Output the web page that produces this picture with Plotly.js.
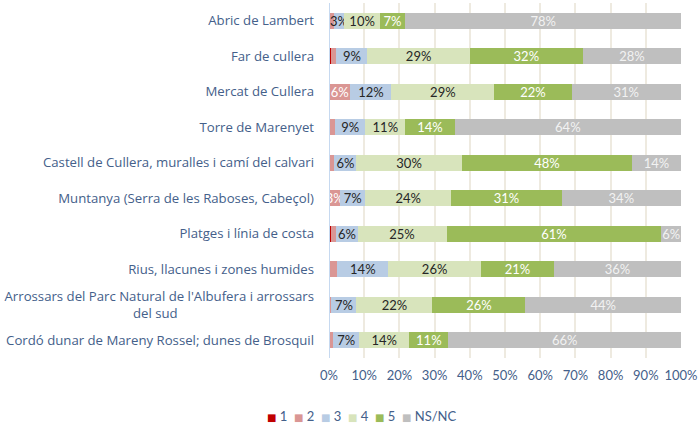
<!DOCTYPE html>
<html>
<head>
<meta charset="utf-8">
<script src="https://cdn.plot.ly/plotly-3.0.1.min.js"></script>
<style>html,body{margin:0;padding:0;background:#fff;}#chart{width:699px;height:426px;}</style>
</head>
<body>
<div id="chart"></div>
<script>
const categories = [
  "Abric de Lambert",
  "Far de cullera",
  "Mercat de Cullera",
  "Torre de Marenyet",
  "Castell de Cullera, muralles i camí del calvari",
  "Muntanya (Serra de les Raboses, Cabeçol)",
  "Platges i línia de costa",
  "Rius, llacunes i zones humides",
  "Arrossars del Parc Natural de l'Albufera i arrossars<br>del sud",
  "Cordó dunar de Mareny Rossel; dunes de Brosquil"
];
const seriesNames = ["1", "2", "3", "4", "5", "NS/NC"];
const s1   = [0,   0.7, 0,    0,    0,    0,    0.7,  0,    0,    0];
const s2   = [1.3, 1.4, 6.1,  1.8,  1.5,  3.2,  1.4,  2.4,  0.7,  1.2];
const s3   = [3.1, 8.8, 11.6, 8.5,  6.3,  7.1,  6.0,  14.4, 7.1,  7.4];
const s4   = [10.0,29.1,29.3, 11.4, 29.9, 24.4, 25.3, 26.4, 21.6, 14.2];
const s5   = [7.3, 32.1,21.9, 14.0, 48.4, 31.4, 61.0, 20.7, 26.4, 11.1];
const sNS  = [78.3,27.9,31.1, 64.3, 13.9, 33.9, 5.6,  36.1, 44.2, 66.1];
const tickVals = [0, 10, 20, 30, 40, 50, 60, 70, 80, 90, 100];
const tickText = ["0%", "10%", "20%", "30%", "40%", "50%", "60%", "70%", "80%", "90%", "100%"];

const allSeries = [s1, s2, s3, s4, s5, sNS];
const colors = ["#C00000", "#DA9694", "#B8CCE4", "#D8E4BC", "#9BBB59", "#BFBFBF"];
const textColors = ["#FFFFFF", "#FFFFFF", "#262626", "#262626", "#FFFFFF", "#F2F2F2"];
const showLabel = [false, true, true, true, true, true];
const FONT = "Lato, 'Open Sans', sans-serif";
const CATFONT = "'Open Sans', Lato, sans-serif";

const traces = allSeries.map((vals, i) => ({
  type: "bar",
  orientation: "h",
  name: seriesNames[i],
  y: categories,
  x: vals,
  marker: {color: colors[i], line: {width: 0}},
  text: vals.map(v => (showLabel[i] && v >= 2.5) ? Math.round(v) + "%" : ""),
  textposition: "inside",
  insidetextanchor: "middle",
  textangle: 0,
  insidetextfont: {family: FONT, size: 13, color: textColors[i]},
  cliponaxis: false,
  hoverinfo: "skip",
  showlegend: false
}));

// invisible trailing filler so the short second line sits centred under the first, as in the original
const catTickText = categories.map(c =>
  c.replace("<br>del sud", "<br>del sud<span style='fill:#ffffff'>BBBBBBBBBBBBBBBB</span>"));

const legendText = seriesNames.map((n, i) =>
  "<span style='fill:" + colors[i] + ";font-size:10px;font-family:DejaVu Sans'>■</span> " + n
).join("&nbsp;&nbsp;");

const layout = {
  width: 699, height: 426,
  margin: {l: 329, r: 18, t: 3, b: 68},
  paper_bgcolor: "#FFFFFF",
  plot_bgcolor: "#FFFFFF",
  barmode: "stack",
  bargap: 0.56,
  showlegend: false,
  uniformtext: {mode: "show", minsize: 13},
  font: {family: FONT, size: 13, color: "#44608A"},
  xaxis: {
    range: [0, 100],
    tickvals: tickVals,
    ticktext: tickText,
    showgrid: true,
    gridcolor: "#EEEAE0",
    gridwidth: 2,
    zeroline: false,
    showline: false,
    ticks: "",
    ticklabelstandoff: 8,
    tickfont: {family: FONT, size: 13, color: "#44608A"},
    fixedrange: true
  },
  yaxis: {
    type: "category",
    autorange: "reversed",
    tickmode: "array",
    tickvals: categories,
    ticktext: catTickText,
    showgrid: false,
    zeroline: false,
    showline: false,
    ticks: "",
    ticklabelstandoff: 14,
    tickfont: {family: CATFONT, size: 13.2, color: "#44608A"},
    fixedrange: true
  },
  shapes: [{
    type: "line", xref: "x", yref: "paper",
    x0: 0, x1: 0, y0: 0, y1: 1,
    line: {color: "#C6D9F0", width: 2},
    layer: "above"
  }],
  annotations: [{
    xref: "paper", yref: "paper",
    x: 0.092, y: -0.163,
    xanchor: "center", yanchor: "middle",
    showarrow: false,
    text: legendText,
    font: {family: FONT, size: 13, color: "#44608A"}
  }]
};

Plotly.newPlot("chart", traces, layout, {displayModeBar: false, staticPlot: true});
</script>
</body>
</html>
